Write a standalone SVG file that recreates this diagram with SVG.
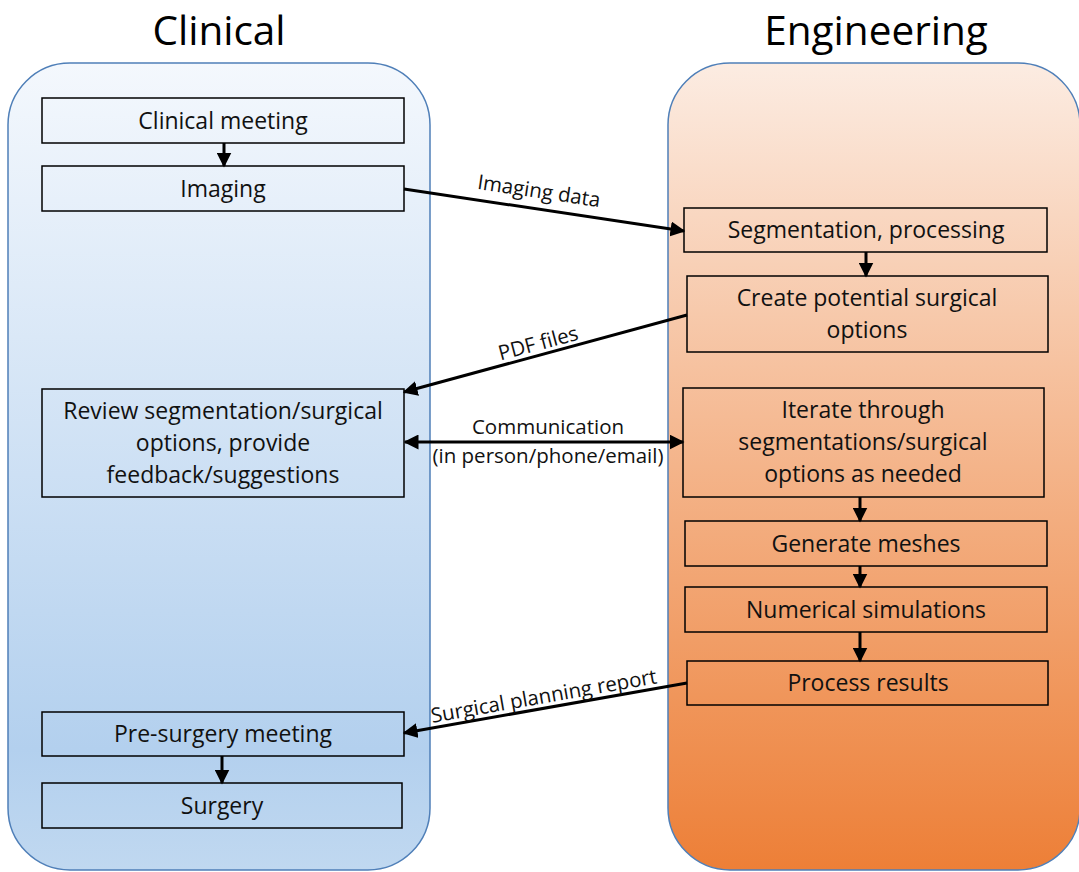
<svg xmlns="http://www.w3.org/2000/svg" width="1079" height="872" viewBox="0 0 1079 872">
<defs>
<linearGradient id="gBlue" x1="0" y1="0" x2="0" y2="1">
<stop offset="0" stop-color="#f4f8fd"/>
<stop offset="0.85" stop-color="#b3d0ee"/>
<stop offset="1" stop-color="#c0d8f0"/>
</linearGradient>
<linearGradient id="gOrange" x1="0" y1="0" x2="0" y2="1">
<stop offset="0" stop-color="#fcece2"/>
<stop offset="0.5" stop-color="#f4b48a"/>
<stop offset="1" stop-color="#ed7f37"/>
</linearGradient>
<marker id="ah" viewBox="0 0 10 10" refX="9" refY="5" markerWidth="5" markerHeight="5" orient="auto-start-reverse" markerUnits="strokeWidth">
<path d="M0,0 L10,5 L0,10 z" fill="#000"/>
</marker>
<style>
.panel{stroke:#4f7fb8;stroke-width:1.5}
.box{fill:none;stroke:#000;stroke-width:1.5}
.t{font-family:"Open Sans","Liberation Sans",sans-serif;font-size:23px;fill:#111;text-anchor:middle}
.title{font-family:"Open Sans","Liberation Sans",sans-serif;font-size:40.5px;fill:#000;text-anchor:middle}
.lbl{font-family:"Open Sans","Liberation Sans",sans-serif;font-size:20.5px;fill:#111;text-anchor:middle}
.c{stroke:#000;stroke-width:3;fill:none;marker-end:url(#ah)}
</style>
</defs>
<rect width="1079" height="872" fill="#fff"/>
<g id="clinical-panel">
<rect class="panel" x="8" y="63" width="422" height="807" rx="62" fill="url(#gBlue)"/>
<text class="title" x="219" y="45">Clinical</text>
</g>
<g id="engineering-panel">
<rect class="panel" x="668" y="63" width="412" height="807" rx="62" fill="url(#gOrange)"/>
<text class="title" x="876" y="45">Engineering</text>
</g>
<g id="clinical-meeting"><rect class="box" x="42" y="98" width="362" height="45"/><text class="t" x="223" y="129">Clinical meeting</text></g>
<g id="imaging"><rect class="box" x="42" y="166" width="362" height="45"/><text class="t" x="223" y="197">Imaging</text></g>
<g id="review"><rect class="box" x="42" y="389" width="362" height="108"/><text class="t" x="223" y="419">Review segmentation/surgical</text><text class="t" x="223" y="451">options, provide</text><text class="t" x="223" y="483">feedback/suggestions</text></g>
<g id="pre-surgery"><rect class="box" x="42" y="712" width="362" height="44"/><text class="t" x="223" y="742">Pre-surgery meeting</text></g>
<g id="surgery"><rect class="box" x="42" y="783" width="360" height="45"/><text class="t" x="222" y="814">Surgery</text></g>
<g id="segmentation"><rect class="box" x="684" y="208" width="363" height="44"/><text class="t" x="866" y="238">Segmentation, processing</text></g>
<g id="create-options"><rect class="box" x="687" y="276" width="361" height="76"/><text class="t" x="867" y="306">Create potential surgical</text><text class="t" x="867" y="338">options</text></g>
<g id="iterate"><rect class="box" x="683" y="388" width="361" height="109"/><text class="t" x="863" y="418">Iterate through</text><text class="t" x="863" y="450">segmentations/surgical</text><text class="t" x="863" y="482">options as needed</text></g>
<g id="generate-meshes"><rect class="box" x="685" y="521" width="362" height="45"/><text class="t" x="866" y="552">Generate meshes</text></g>
<g id="numerical"><rect class="box" x="685" y="587" width="362" height="45"/><text class="t" x="866" y="618">Numerical simulations</text></g>
<g id="process-results"><rect class="box" x="687" y="661" width="361" height="44"/><text class="t" x="868" y="691">Process results</text></g>
<g id="connectors">
<line class="c" x1="224" y1="143" x2="224" y2="166"/>
<line class="c" x1="866" y1="252" x2="866" y2="276"/>
<line class="c" x1="860" y1="497" x2="860" y2="521"/>
<line class="c" x1="860" y1="566" x2="860" y2="587"/>
<line class="c" x1="860" y1="632" x2="860" y2="661"/>
<line class="c" x1="222" y1="756" x2="222" y2="783"/>
<line class="c" x1="404" y1="189" x2="684" y2="231"/>
<line class="c" x1="687" y1="315" x2="404" y2="392"/>
<line class="c" x1="405" y1="442" x2="683" y2="442" style="marker-start:url(#ah)"/>
<line class="c" x1="687" y1="683" x2="404" y2="733"/>
<text class="lbl" transform="translate(538,198) rotate(8.5)">Imaging data</text>
<text class="lbl" transform="translate(540,350) rotate(-15)">PDF files</text>
<text class="lbl" x="548" y="434">Communication</text>
<text class="lbl" x="548" y="463">(in person/phone/email)</text>
<text class="lbl" transform="translate(545,703) rotate(-10)">Surgical planning report</text>
</g>
</svg>
